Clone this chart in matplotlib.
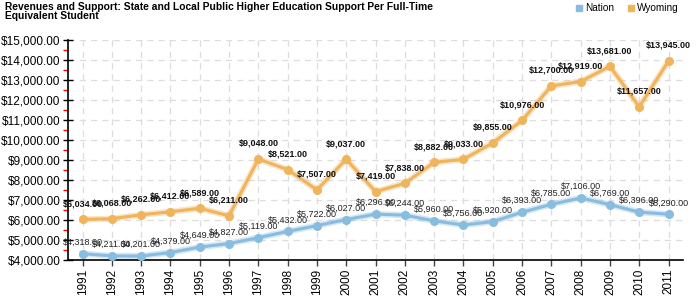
import matplotlib.pyplot as plt
from matplotlib.ticker import MultipleLocator, FuncFormatter
from matplotlib.lines import Line2D

plt.rcParams['font.family'] = ['Liberation Sans', 'DejaVu Sans']

years = list(range(1991, 2012))
nation = [4318, 4211, 4201, 4379, 4649, 4827, 5119, 5432, 5722, 6027, 6296,
          6244, 5960, 5756, 5920, 6393, 6785, 7106, 6769, 6396, 6290]
wyoming = [6034, 6068, 6262, 6412, 6589, 6211, 9048, 8521, 7507, 9037, 7419,
           7838, 8882, 9033, 9855, 10976, 12700, 12919, 13681, 11657, 13945]

c_nation = '#88bde0'
c_wyo = '#f0b45c'

fig = plt.figure(figsize=(7, 3), dpi=100)
ax = fig.add_axes([0.097, 0.133, 0.879, 0.734])

money = lambda v: '${:,.2f}'.format(v)

for vals, col in [(nation, c_nation), (wyoming, c_wyo)]:
    ax.plot(years, vals, color=col, lw=4.5, alpha=0.35, zorder=2)
    ax.plot(years, vals, color=col, lw=2.2, marker='o', ms=5.5, zorder=3)

for x, v in zip(years, nation):
    ax.annotate(money(v), (x, v), xytext=(0, 5), textcoords='offset points',
                ha='center', va='bottom', fontsize=6.5, color='#222222', zorder=4)
for x, v in zip(years, wyoming):
    ax.annotate(money(v), (x, v), xytext=(0, 8), textcoords='offset points',
                ha='center', va='bottom', fontsize=6.5, fontweight='bold',
                color='#111111', zorder=4)

ax.set_xlim(1990.5, 2011.5)
ax.set_ylim(4000, 15000)
ax.set_xticks(years)
ax.set_xticklabels([str(y) for y in years], rotation=90, fontsize=8.5)
ax.yaxis.set_major_locator(MultipleLocator(1000))
ax.yaxis.set_minor_locator(MultipleLocator(500))
ax.yaxis.set_major_formatter(FuncFormatter(lambda v, p: money(v)))
ax.tick_params(axis='y', which='major', labelsize=8.5, direction='inout',
               length=7, width=1, color='black', pad=2)
ax.tick_params(axis='y', which='minor', direction='out', length=3.5,
               width=1, color='red')
ax.tick_params(axis='x', direction='out', length=4, width=1, color='#444444', pad=2)

ax.grid(True, which='major', color='#dddddd', linestyle=(0, (5, 4)), lw=0.9)
ax.set_axisbelow(True)
ax.spines['top'].set_visible(False)
ax.spines['right'].set_visible(False)
ax.spines['left'].set_linewidth(1.2)
ax.spines['bottom'].set_linewidth(1.2)

fig.text(0.007, 0.995, 'Revenues and Support: State and Local Public Higher Education Support Per Full-Time\nEquivalent Student',
         ha='left', va='top', fontsize=7.4, fontweight='bold', linespacing=0.9)

handles = [Line2D([], [], marker='s', ls='', color=c_nation, ms=5, label='Nation'),
           Line2D([], [], marker='s', ls='', color=c_wyo, ms=5, label='Wyoming')]
fig.legend(handles=handles, loc='upper right', bbox_to_anchor=(0.982, 1.02), ncol=2,
           frameon=False, fontsize=7.2, handlelength=0.8, handletextpad=0.2,
           columnspacing=1.3)

fig.savefig('out.png', dpi=100)
